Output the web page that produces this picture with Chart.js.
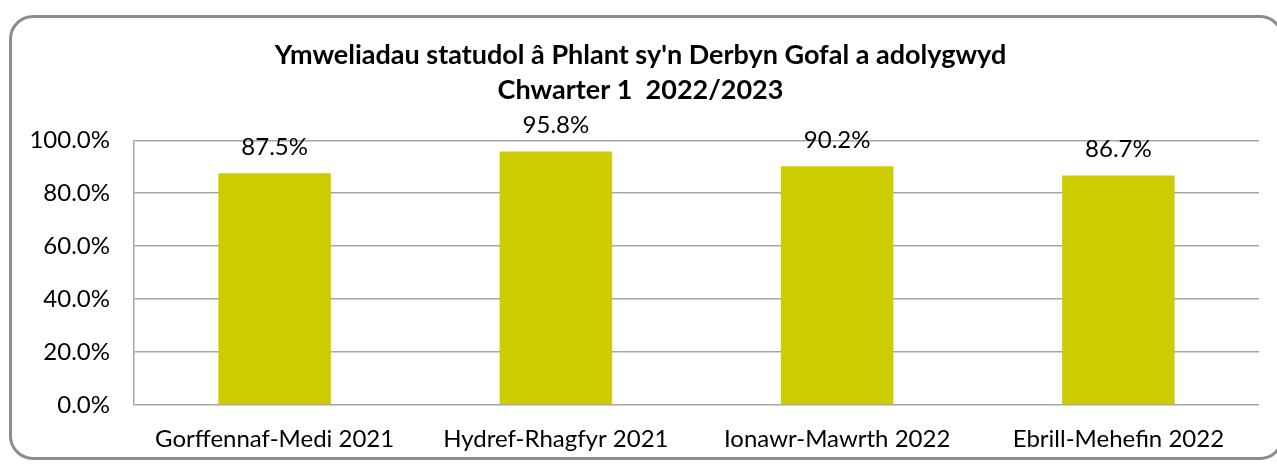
<!DOCTYPE html>
<html>
<head>
<meta charset="utf-8">
<script src="https://cdn.jsdelivr.net/npm/chart.js@4"></script>
<style>
  body { margin: 0; background: #fff; }
  #frame {
    position: absolute; left: 9px; top: 15px; width: 1275px; height: 445px;
    border: 3px solid #8c8c8c; border-radius: 24px; box-sizing: border-box;
  }
  #wrap { position: absolute; left: 0; top: 0; width: 1277px; height: 464px; }
</style>
</head>
<body>
<div id="frame"></div>
<div id="wrap"><canvas id="visitsChart"></canvas></div>
<script>
const quarters = ['Gorffennaf-Medi 2021', 'Hydref-Rhagfyr 2021', 'Ionawr-Mawrth 2022', 'Ebrill-Mehefin 2022'];
const visitRates = [87.5, 95.8, 90.2, 86.7];
const titleLines = ["Ymweliadau statudol â Phlant sy'n Derbyn Gofal a adolygwyd", 'Chwarter 1  2022/2023'];

const fontName = 'Lato, "Open Sans", sans-serif';

// labels above each bar, placed from the bar elements
const valueLabels = {
    id: 'valueLabels',
    afterDatasetsDraw(chart) {
        const ctx = chart.ctx;
        ctx.save();
        ctx.font = '24px ' + fontName;
        ctx.fillStyle = '#000';
        ctx.textAlign = 'center';
        ctx.textBaseline = 'middle';
        chart.getDatasetMeta(0).data.forEach((bar, i) => {
            ctx.fillText(visitRates[i].toFixed(1) + '%', bar.x, bar.y - 26);
        });
        ctx.restore();
    }
};

const ctx = document.getElementById('visitsChart').getContext('2d');
const chart = new Chart(ctx, {
    type: 'bar',
    data: {
        labels: quarters,
        datasets: [{
            data: visitRates,
            backgroundColor: '#cccc00',
            borderWidth: 0,
            categoryPercentage: 1,
            barPercentage: 0.4,
        }]
    },
    options: {
        responsive: true,
        maintainAspectRatio: false,
        animation: false,
        layout: { padding: { left: 22, right: 18, top: 37, bottom: 0 } },
        plugins: {
            legend: { display: false },
            tooltip: { enabled: false },
            title: {
                display: true,
                text: titleLines,
                color: '#000',
                font: { family: fontName, size: 27, weight: 'bold', lineHeight: 1.32 },
                padding: { top: 0, bottom: 32 },
            },
        },
        scales: {
            x: {
                afterFit(scale) { scale.height = 59; },
                grid: { display: false, drawTicks: false },
                border: { display: false },
                ticks: { color: '#000', font: { family: fontName, size: 24 }, padding: 20, maxRotation: 0 },
            },
            y: {
                min: 0,
                max: 100,
                afterFit(scale) { scale.width = 112; },
                ticks: {
                    stepSize: 20,
                    color: '#000',
                    padding: 24,
                    font: { family: fontName, size: 24 },
                    callback: v => v.toFixed(1) + '%',
                },
                grid: { color: '#a6a6a6', lineWidth: 1.5, drawTicks: false },
                border: { display: true, color: '#a6a6a6', width: 1.5 },
            },
        },
    },
    plugins: [valueLabels],
});
</script>
</body>
</html>
